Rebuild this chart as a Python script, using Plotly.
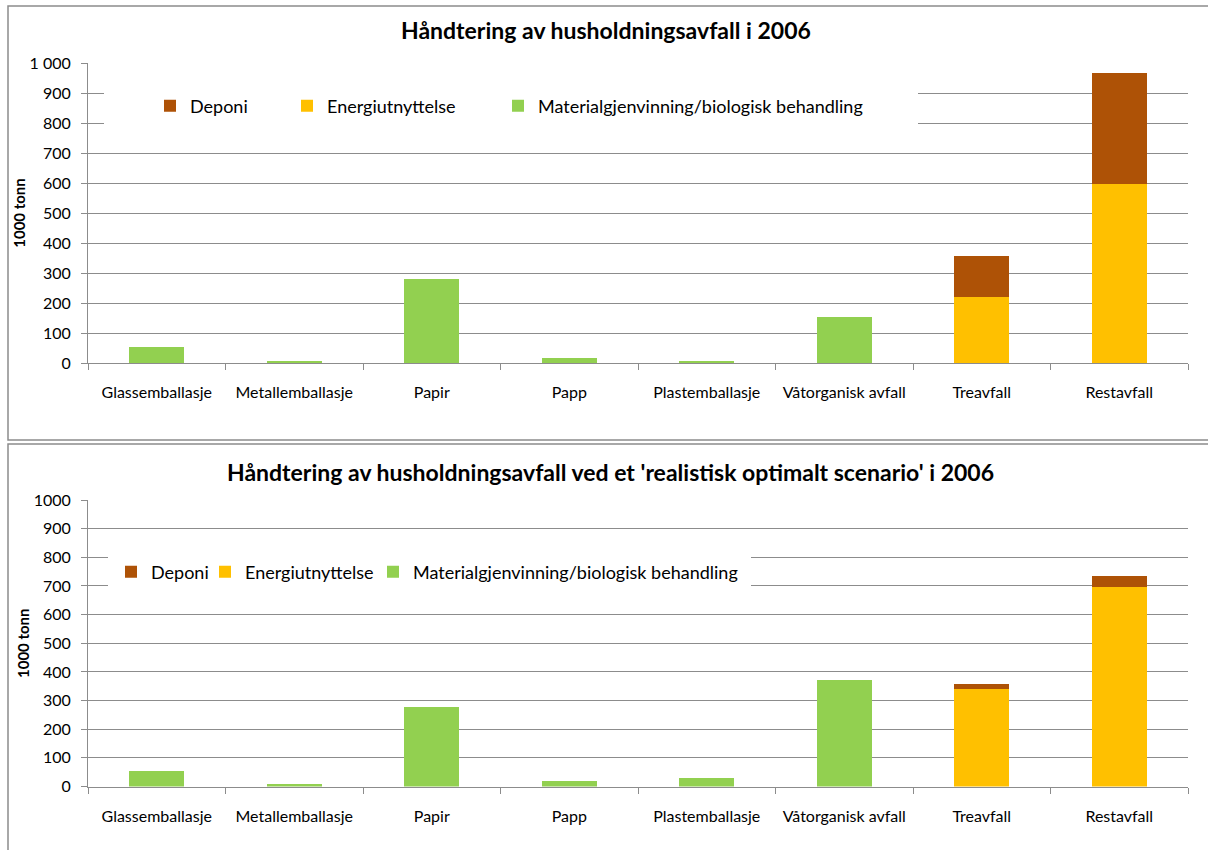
import plotly.graph_objects as go

# Household waste by fraction (1000 tonnes)
categories = ["Glassemballasje", "Metallemballasje", "Papir", "Papp",
              "Plastemballasje", "Våtorganisk avfall", "Treavfall", "Restavfall"]

# 2006 actual treatment
material_2006 = [52, 8, 280, 18, 8, 153, 0, 0]
energi_2006 = [0, 0, 0, 0, 0, 0, 219, 598]
deponi_2006 = [0, 0, 0, 0, 0, 0, 138, 368]

# 2006 'realistic optimal scenario'
material_opt = [53, 8, 276, 19, 29, 373, 0, 0]
energi_opt = [0, 0, 0, 0, 0, 0, 340, 696]
deponi_opt = [0, 0, 0, 0, 0, 0, 19, 39]

series_names = ["Deponi", "Energiutnyttelse", "Materialgjenvinning/biologisk behandling"]
y_ticks = [0, 100, 200, 300, 400, 500, 600, 700, 800, 900, 1000]
y_ticktext_top = ["0", "100", "200", "300", "400", "500", "600", "700", "800", "900", "1 000"]
y_ticktext_bottom = [str(v) for v in y_ticks]

titles = ["Håndtering av husholdningsavfall i 2006",
          "Håndtering av husholdningsavfall ved et 'realistisk optimalt scenario' i 2006"]

COL_DEP = "#AE5206"
COL_ENE = "#FFC000"
COL_MAT = "#92D050"
GRID = "#8C8C8C"
FONT = "Lato"

W, H = 1208, 850


def px_x(x):
    return x / W


def px_y(y):
    return 1 - y / H


fig = go.Figure()

panels = [
    ("x", "y", material_2006, energi_2006, deponi_2006, ["legend3", "legend2", "legend"]),
    ("x2", "y2", material_opt, energi_opt, deponi_opt, ["legend6", "legend5", "legend4"]),
]
for xa, ya, mat, ene, dep, legs in panels:
    fig.add_trace(go.Bar(x=categories, y=mat, name=series_names[2], marker_color=COL_MAT,
                         marker_line_width=0, xaxis=xa, yaxis=ya, legend=legs[0]))
    fig.add_trace(go.Bar(x=categories, y=ene, name=series_names[1], marker_color=COL_ENE,
                         marker_line_width=0, xaxis=xa, yaxis=ya, legend=legs[1]))
    fig.add_trace(go.Bar(x=categories, y=dep, name=series_names[0], marker_color=COL_DEP,
                         marker_line_width=0, xaxis=xa, yaxis=ya, legend=legs[2]))

xaxis_common = dict(type="category", showline=True, linecolor=GRID, linewidth=1,
                    ticks="outside", tickson="boundaries", ticklen=6, tickcolor=GRID,
                    showgrid=False, tickfont=dict(family=FONT, size=16, color="#000"),
                    ticklabelstandoff=15, fixedrange=True, automargin=False)
yaxis_common = dict(range=[0, 1000], tickvals=y_ticks, showgrid=True, gridcolor=GRID,
                    gridwidth=1, showline=True, linecolor=GRID, linewidth=1,
                    ticks="outside", ticklen=6, tickcolor=GRID, zeroline=False,
                    tickfont=dict(family=FONT, size=16, color="#000"),
                    ticklabelstandoff=7, automargin=False,
                    title=dict(text="<b>1000 tonn</b>", font=dict(family=FONT, size=15, color="#000"),
                               standoff=0))

x_dom = [px_x(88), px_x(1188)]

legend_common = dict(orientation="h", yanchor="middle", xanchor="left",
                     font=dict(family=FONT, size=18, color="#000"),
                     bgcolor="rgba(0,0,0,0)", itemwidth=30, itemclick=False,
                     tracegroupgap=0)

fig.update_layout(
    width=W, height=H,
    margin=dict(l=0, r=0, t=0, b=0, autoexpand=False),
    paper_bgcolor="white", plot_bgcolor="white",
    barmode="stack", bargap=0.6,
    xaxis=dict(domain=x_dom, anchor="y", **xaxis_common),
    yaxis=dict(domain=[px_y(363), px_y(63)], anchor="x", ticktext=y_ticktext_top, **yaxis_common),
    xaxis2=dict(domain=x_dom, anchor="y2", **xaxis_common),
    yaxis2=dict(domain=[px_y(786.5), px_y(500)], anchor="x2", ticktext=y_ticktext_bottom, **yaxis_common),
    legend=dict(x=px_x(150), y=px_y(106), **legend_common),
    legend2=dict(x=px_x(287), y=px_y(106), **legend_common),
    legend3=dict(x=px_x(498), y=px_y(106), **legend_common),
    legend4=dict(x=px_x(111), y=px_y(572), **legend_common),
    legend5=dict(x=px_x(205), y=px_y(572), **legend_common),
    legend6=dict(x=px_x(373), y=px_y(572), **legend_common),
    showlegend=True,
)

# chart titles
fig.add_annotation(text="<b>%s</b>" % titles[0], x=px_x(606), y=px_y(30), xref="paper", yref="paper",
                   xanchor="center", yanchor="middle",
                   showarrow=False, font=dict(family=FONT, size=23, color="#000"))
fig.add_annotation(text="<b>%s</b>" % titles[1], x=px_x(611), y=px_y(472), xref="paper", yref="paper",
                   xanchor="center", yanchor="middle",
                   showarrow=False, font=dict(family=FONT, size=23, color="#000"))

# chart area frames
fig.add_shape(type="rect", xref="paper", yref="paper", x0=px_x(8), x1=px_x(1212),
              y0=px_y(440), y1=px_y(6), line=dict(color="#8C8C8C", width=1.5), layer="below")
fig.add_shape(type="rect", xref="paper", yref="paper", x0=px_x(8), x1=px_x(1212),
              y0=px_y(856), y1=px_y(444), line=dict(color="#8C8C8C", width=1.5), layer="below")

# white legend backgrounds over the gridlines
fig.add_shape(type="rect", xref="paper", yref="paper", x0=px_x(104), x1=px_x(918),
              y0=px_y(140), y1=px_y(76), fillcolor="white", line_width=0, layer="above")
fig.add_shape(type="rect", xref="paper", yref="paper", x0=px_x(108), x1=px_x(751),
              y0=px_y(598), y1=px_y(546), fillcolor="white", line_width=0, layer="above")

fig.write_html("out.html")
